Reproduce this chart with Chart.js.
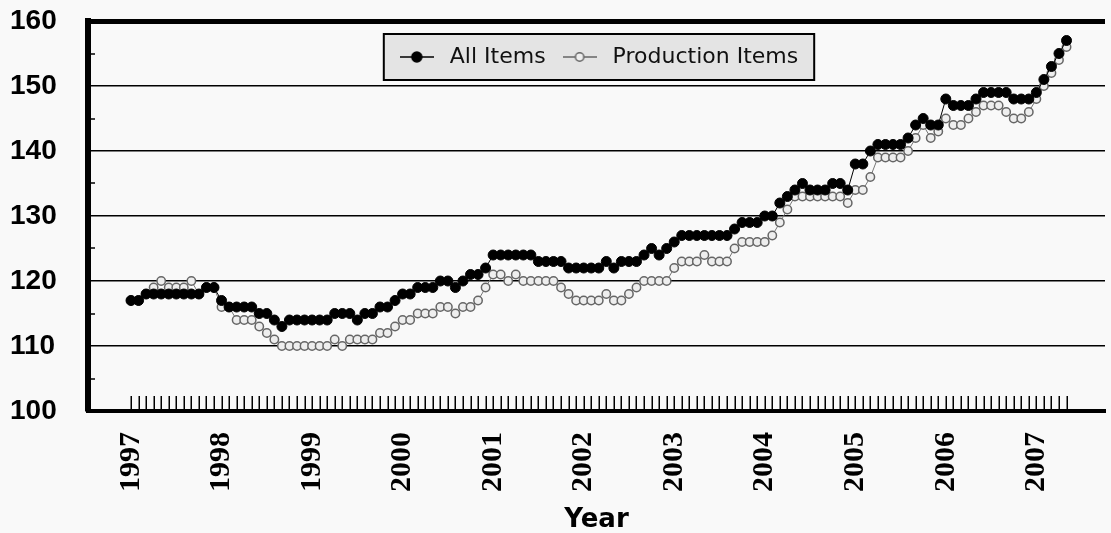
<!DOCTYPE html>
<html>
<head>
<meta charset="utf-8">
<title>All Items vs Production Items</title>
<script src="https://cdn.jsdelivr.net/npm/chart.js@4.4.1/dist/chart.umd.min.js"></script>
<style>
  html, body { margin: 0; padding: 0; background: #f9f9f9; }
  #wrap { width: 1111px; height: 533px; }
</style>
</head>
<body>
<div id="wrap"><canvas id="chart" width="1111" height="533"></canvas></div>
<script>
// monthly index values, Jan 1997 .. May 2007
const years = ["1997", "1998", "1999", "2000", "2001", "2002", "2003", "2004", "2005", "2006", "2007"];

const allItems = [
  117, 117, 118, 118, 118, 118, 118, 118, 118, 118, 119, 119,
  117, 116, 116, 116, 116, 115, 115, 114, 113, 114, 114, 114,
  114, 114, 114, 115, 115, 115, 114, 115, 115, 116, 116, 117,
  118, 118, 119, 119, 119, 120, 120, 119, 120, 121, 121, 122,
  124, 124, 124, 124, 124, 124, 123, 123, 123, 123, 122, 122,
  122, 122, 122, 123, 122, 123, 123, 123, 124, 125, 124, 125,
  126, 127, 127, 127, 127, 127, 127, 127, 128, 129, 129, 129,
  130, 130, 132, 133, 134, 135, 134, 134, 134, 135, 135, 134,
  138, 138, 140, 141, 141, 141, 141, 142, 144, 145, 144, 144,
  148, 147, 147, 147, 148, 149, 149, 149, 149, 148, 148, 148,
  149, 151, 153, 155, 157
];

const productionItems = [
  117, 117, 118, 119, 120, 119, 119, 119, 120, 118, 119, 119,
  116, 116, 114, 114, 114, 113, 112, 111, 110, 110, 110, 110,
  110, 110, 110, 111, 110, 111, 111, 111, 111, 112, 112, 113,
  114, 114, 115, 115, 115, 116, 116, 115, 116, 116, 117, 119,
  121, 121, 120, 121, 120, 120, 120, 120, 120, 119, 118, 117,
  117, 117, 117, 118, 117, 117, 118, 119, 120, 120, 120, 120,
  122, 123, 123, 123, 124, 123, 123, 123, 125, 126, 126, 126,
  126, 127, 129, 131, 133, 133, 133, 133, 133, 133, 133, 132,
  134, 134, 136, 139, 139, 139, 139, 140, 142, 144, 142, 143,
  145, 144, 144, 145, 146, 147, 147, 147, 146, 145, 145, 146,
  148, 150, 152, 154, 156
];

const yTicks = [100, 110, 120, 130, 140, 150, 160];
const yMinorTicks = [105, 115, 125, 135, 145, 155];

const legendFont = { family: "DejaVu Sans", size: 22 };
const legendPad = 12;
const legendTextY = 57;
const targetTop = 21;

// small line+marker icons for the legend
function legendIcon(fill, stroke, radius) {
  const c = document.createElement("canvas");
  c.width = 34;
  c.height = 14;
  const g = c.getContext("2d");
  g.strokeStyle = stroke;
  g.lineWidth = 1.5;
  g.beginPath();
  g.moveTo(0, 7);
  g.lineTo(34, 7);
  g.stroke();
  g.beginPath();
  g.arc(17, 7, radius, 0, Math.PI * 2);
  g.fillStyle = fill;
  g.fill();
  g.stroke();
  return c;
}

const icons = [legendIcon("#000", "#000", 5), legendIcon("#eeeeee", "#666", 4.2)];

const framePlugin = {
  id: "frame",
  afterLayout(chart) {
    // legend lives inside the plot, centred on it
    const lg = chart.legend;
    const area = chart.chartArea;
    lg.left = area.left;
    lg.right = area.right;
    lg.top = legendTextY - legendPad - legendFont.size / 2;
    lg.bottom = lg.top + lg.height;
  },
  beforeDraw(chart) {
    const ctx = chart.ctx;
    const lg = chart.legend;
    const total = lg.lineWidths[0];
    const start = (lg.left + legendPad + lg.right - total) / 2;
    const x0 = start - 11;
    const x1 = start + total - legendPad + 16;
    ctx.save();
    ctx.fillStyle = "#e4e4e4";
    ctx.fillRect(x0, 34, x1 - x0, 46);
    ctx.strokeStyle = "#000";
    ctx.lineWidth = 2;
    ctx.strokeRect(x0, 34, x1 - x0, 46);
    ctx.restore();
  },
  afterDraw(chart) {
    const ctx = chart.ctx;
    const area = chart.chartArea;
    const xs = chart.scales.x;
    const ys = chart.scales.y;
    ctx.save();
    ctx.strokeStyle = "#000";
    ctx.lineWidth = 1.5;
    ctx.beginPath();
    allItems.forEach((_, i) => {
      const px = Math.round(xs.getPixelForValue(i)) + 0.25;
      ctx.moveTo(px, area.bottom - 15);
      ctx.lineTo(px, area.bottom);
    });
    yMinorTicks.forEach((v) => {
      const py = Math.round(ys.getPixelForValue(v));
      ctx.moveTo(area.left, py);
      ctx.lineTo(area.left + 7, py);
    });
    ctx.stroke();
    ctx.restore();
  }
};

function toPoints(values) {
  return values.map((v, i) => ({ x: i, y: v }));
}

const chart = new Chart(document.getElementById("chart"), {
  type: "line",
  data: {
    datasets: [
      {
        label: "All Items",
        data: toPoints(allItems),
        borderColor: "#000",
        borderWidth: 1,
        pointRadius: 5,
        pointBackgroundColor: "#000",
        pointBorderColor: "#000",
        pointBorderWidth: 1
      },
      {
        label: "Production Items",
        data: toPoints(productionItems),
        borderColor: "#777",
        borderWidth: 1,
        pointRadius: 4.2,
        pointBackgroundColor: "#eeeeee",
        pointBorderColor: "#666",
        pointBorderWidth: 1.5
      }
    ]
  },
  options: {
    responsive: false,
    animation: false,
    // negative top padding cancels the space the legend takes at the top
    layout: { padding: { left: 10, right: 0, top: targetTop - (legendFont.size + legendPad + 10), bottom: 0 } },
    plugins: {
      tooltip: { enabled: false },
      legend: {
        display: true,
        position: "top",
        labels: {
          usePointStyle: true,
          pointStyleWidth: 44,
          padding: legendPad,
          color: "#111",
          font: legendFont,
          generateLabels(chart) {
            const items = Chart.defaults.plugins.legend.labels.generateLabels(chart);
            items.forEach((it, i) => { it.pointStyle = icons[i]; });
            return items;
          }
        }
      }
    },
    scales: {
      x: {
        type: "linear",
        min: -5.7,
        max: 129.1,
        afterBuildTicks(s) { s.ticks = years.map((y, k) => ({ value: k * 12 })); },
        afterFit(s) { s.height = 122; },
        ticks: {
          autoSkip: false,
          minRotation: 90,
          maxRotation: 90,
          padding: 21,
          color: "#000",
          font: { family: "Liberation Serif", weight: "bold", size: 30 },
          callback: (v) => years[Math.round(v / 12)]
        },
        grid: { display: false, drawTicks: false },
        border: { display: true, color: "#000", width: 4 },
        title: {
          display: true,
          text: "Year",
          color: "#000",
          padding: 0,
          font: { family: "DejaVu Sans", weight: "bold", size: 26, lineHeight: 1 }
        }
      },
      y: {
        min: 100,
        max: 160,
        afterBuildTicks(s) { s.ticks = yTicks.map((v) => ({ value: v })); },
        afterFit(s) { s.width = 78; },
        ticks: {
          padding: 0,
          crossAlign: "far",
          color: "#000",
          font: { family: "Liberation Sans", weight: "bold", size: 28 }
        },
        grid: {
          drawTicks: false,
          color: (c) => (c.tick && c.tick.value === 100 ? "rgba(0,0,0,0)" : "#000"),
          lineWidth: (c) => (c.tick && c.tick.value === 160 ? 5 : 1.5)
        },
        border: { display: true, color: "#000", width: 6 }
      }
    }
  },
  plugins: [framePlugin]
});

// fine correction if the legend height differs from the estimate
const drift = chart.chartArea.top - targetTop;
if (Math.abs(drift) > 0.5) {
  chart.config.options.layout.padding.top -= drift;
  chart.update();
}
</script>
</body>
</html>
